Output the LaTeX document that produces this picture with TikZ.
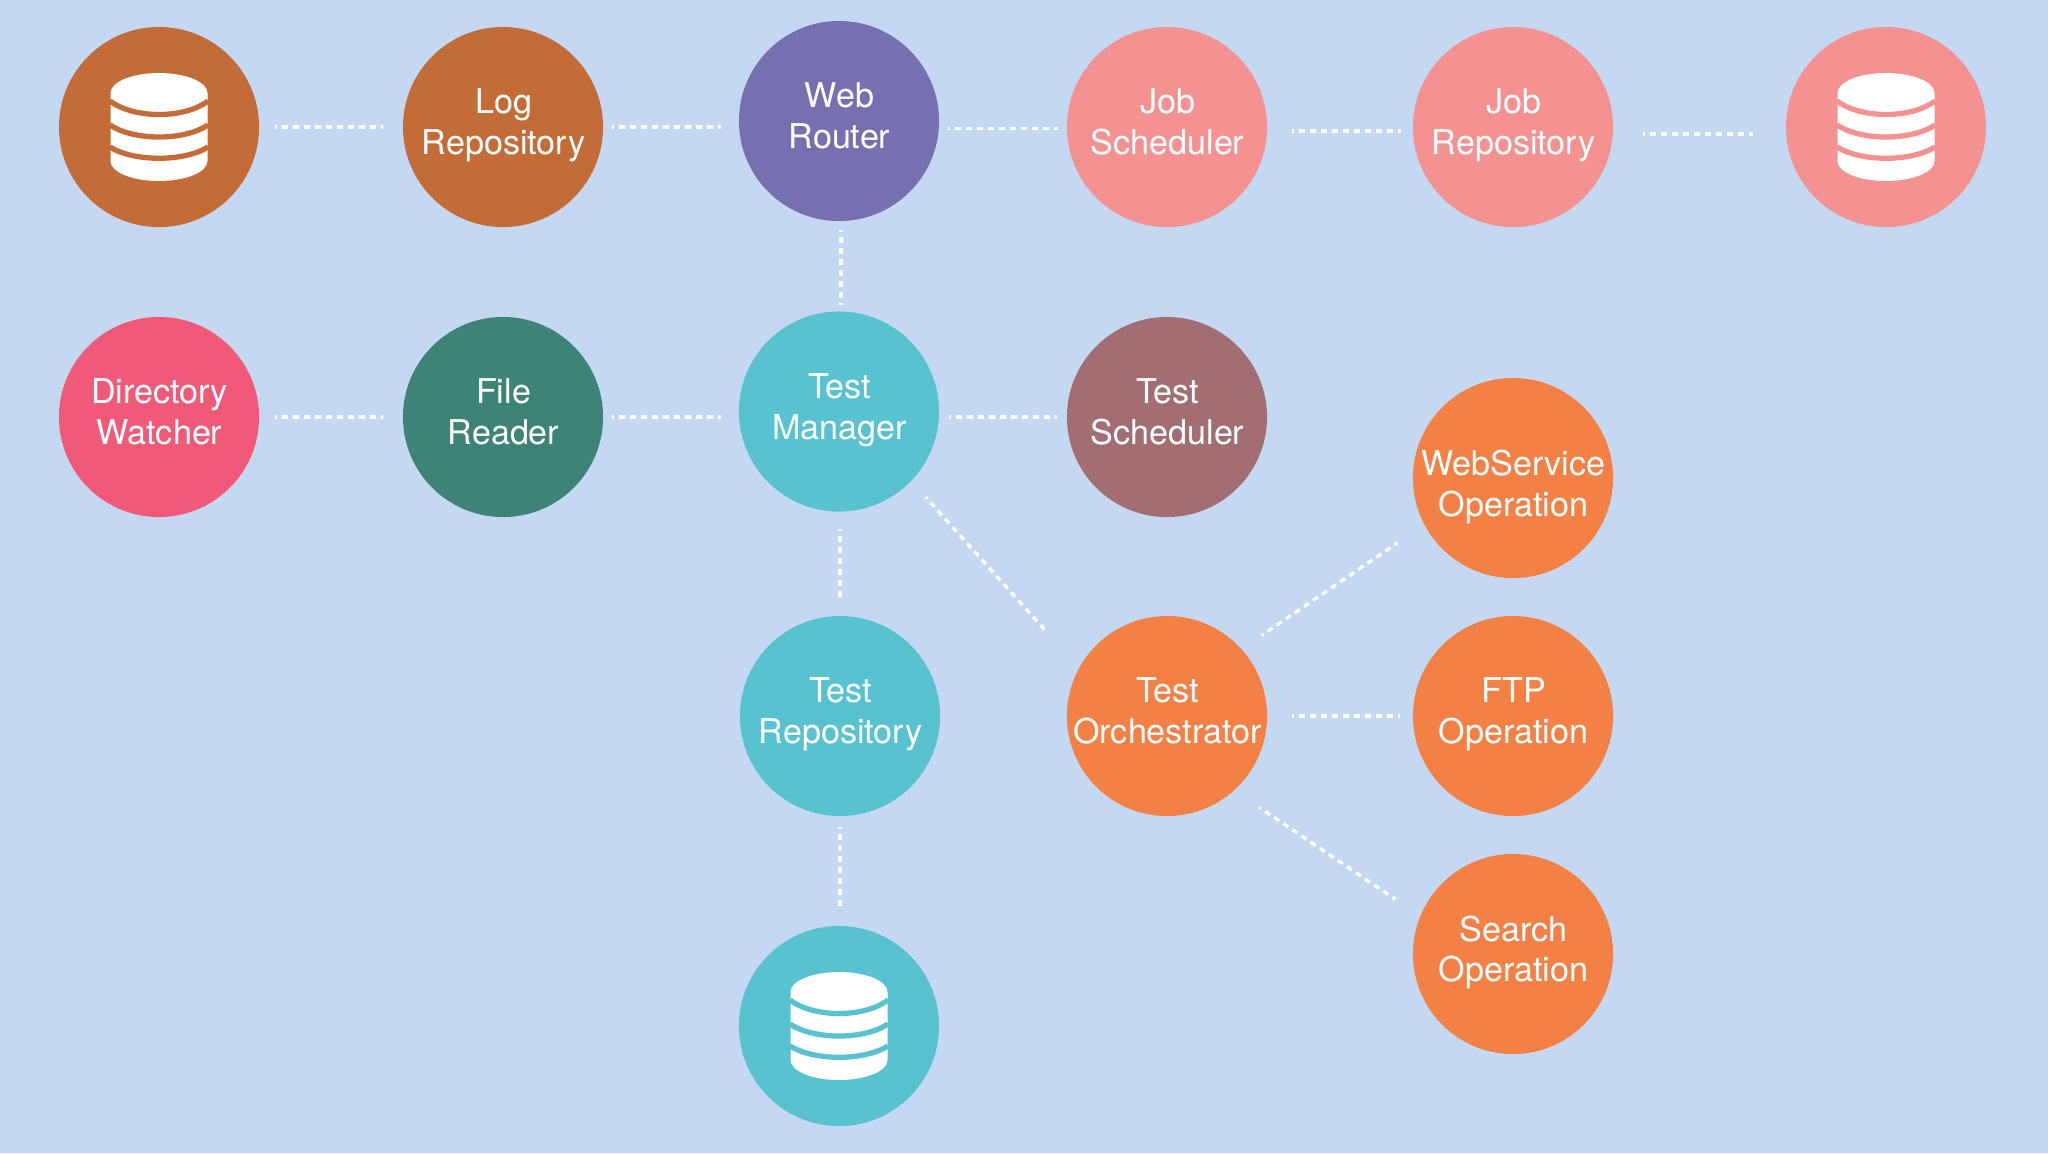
\documentclass[tikz,border=0pt]{standalone}
\usepackage{fontspec}
\setmainfont{TeX Gyre Heros}
\usepackage{amsmath,amssymb}
\definecolor{bgblue}{HTML}{C5D8F1}
\definecolor{brownc}{HTML}{C46C38}
\definecolor{purplec}{HTML}{7670B1}
\definecolor{salmonc}{HTML}{F49291}
\definecolor{pinkc}{HTML}{F05A78}
\definecolor{greenc}{HTML}{3D8376}
\definecolor{cyanc}{HTML}{58C2D0}
\definecolor{mauvec}{HTML}{A26E74}
\definecolor{orangec}{HTML}{F38145}
\tikzset{
  svc/.style={circle,fill=#1,minimum size=2cm,inner sep=0pt,outer sep=0pt},
  txt/.style={text=white,align=center,inner sep=0pt,font=\fontsize{9.7}{11.65}\selectfont,
    execute at begin node=\strut,execute at end node=\strut,xshift=0.15pt,yshift=-0.25pt},
  link/.style={white,line width=0.95pt,dash pattern=on 1.7pt off 1.42pt,dash phase=1.1pt}
}
\newcommand{\dbicon}[2]{
  \fill[white,shift={(#1)}] (-48.5,-34) arc[start angle=180,end angle=360,x radius=48.5,y radius=20]
    -- (48.5,34) arc[start angle=0,end angle=180,x radius=48.5,y radius=20] -- cycle;
  \draw[#2,line width=1.5pt,shift={(#1)}] (-49,-26) .. controls (-25,-8) and (25,-8) .. (49,-26);
  \draw[#2,line width=1.5pt,shift={(#1)}] (-49,-2) .. controls (-25,14) and (25,14) .. (49,-2);
  \draw[#2,line width=1.5pt,shift={(#1)}] (-49,20) .. controls (-25,35) and (25,35) .. (49,20);
}
\begin{document}
\begin{tikzpicture}[x=0.01cm,y=-0.01cm]
  \fill[bgblue] (0,0) rectangle (2048,1153);
  \useasboundingbox (0,0) rectangle (2048,1153);
  % top row
  \node[svc=brownc] (dbl) at (159,127) {};
  \node[svc=brownc,label={[txt]center:Log\\Repository}] (logrepo) at (503,127) {};
  \node[svc=purplec,label={[txt]center:Web\\Router}] (webrouter) at (839,121) {};
  \node[svc=salmonc,label={[txt]center:Job\\Scheduler}] (jobsched) at (1167,127) {};
  \node[svc=salmonc,label={[txt]center:Job\\Repository}] (jobrepo) at (1513,127) {};
  \node[svc=salmonc] (dbj) at (1886,127) {};
  % second row
  \node[svc=pinkc,label={[txt]center:Directory\\Watcher}] (dirwatch) at (159,417) {};
  \node[svc=greenc,label={[txt]center:File\\Reader}] (filereader) at (503,417) {};
  \node[svc=cyanc,label={[txt]center:Test\\Manager}] (testmgr) at (839,411.5) {};
  \node[svc=mauvec,label={[txt]center:Test\\Scheduler}] (testsched) at (1167,417) {};
  % lower part
  \node[svc=orangec,label={[txt,yshift=-2.85pt]center:WebService\\Operation}] (wsop) at (1513,478) {};
  \node[svc=cyanc,label={[txt]center:Test\\Repository}] (testrepo) at (840,716) {};
  \node[svc=orangec,label={[txt]center:Test\\Orchestrator}] (orch) at (1167,716) {};
  \node[svc=orangec,label={[txt]center:FTP\\Operation}] (ftpop) at (1513,716) {};
  \node[svc=orangec,label={[txt]center:Search\\Operation}] (searchop) at (1513,954) {};
  \node[svc=cyanc] (dbt) at (839,1026) {};
  \dbicon{159,127}{brownc}
  \dbicon{1886,127}{salmonc}
  \dbicon{839,1026}{cyanc}
  % connectors
  \draw[link] ([shift={(16,0)}]dbl.east) -- ([shift={(-20,0)}]logrepo.west);
  \draw[link] ([shift={(9,0)}]logrepo.east) -- ([shift={(-18,6)}]webrouter.west);
  \draw[link] ([shift={(9,7.5)}]webrouter.east) -- ([shift={(-9,1.5)}]jobsched.west);
  \draw[link] ([shift={(25,4)}]jobsched.east) -- ([shift={(-12,4)}]jobrepo.west);
  \draw[link] ([shift={(30,7)}]jobrepo.east) -- ([shift={(-33,7)}]dbj.west);
  \draw[link] ([shift={(16,0)}]dirwatch.east) -- ([shift={(-20,0)}]filereader.west);
  \draw[link] ([shift={(9,0)}]filereader.east) -- ([shift={(-18,5.5)}]testmgr.west);
  \draw[link] ([shift={(10,5.5)}]testmgr.east) -- ([shift={(-10,0)}]testsched.west);
  \draw[link] ([shift={(2,9)}]webrouter.south) -- ([shift={(2,-6)}]testmgr.north);
  \draw[link] ([shift={(1,17)}]testmgr.south) -- ([shift={(0,-15)}]testrepo.north);
  \draw[link] ([shift={(0,11)}]testrepo.south) -- ([shift={(1,-19)}]dbt.north);
  \draw[link] ([shift={(16,15)}]testmgr.-45) -- ([shift={(-52,-16)}]orch.135);
  \draw[link] ([shift={(24,-10)}]orch.45) -- ([shift={(-44.6,-6)}]wsop.225);
  \draw[link] ([shift={(25,0)}]orch.east) -- ([shift={(-13,0)}]ftpop.west);
  \draw[link] ([shift={(21.5,20.5)}]orch.-45) -- ([shift={(-47,16)}]searchop.135);
\end{tikzpicture}
\end{document}
